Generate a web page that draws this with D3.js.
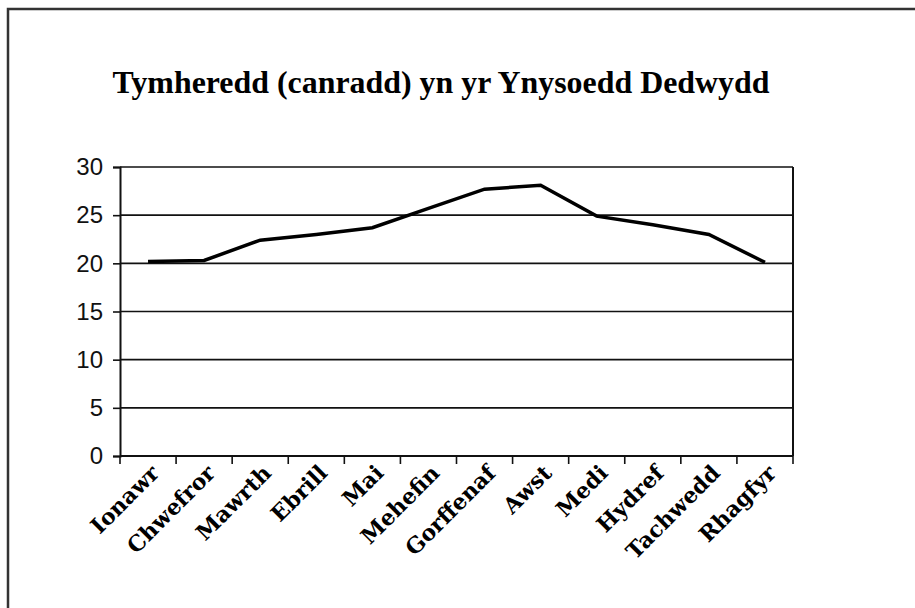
<!DOCTYPE html>
<html>
<head>
<meta charset="utf-8">
<script src="https://cdn.jsdelivr.net/npm/d3@7"></script>
<style>
  html, body { margin: 0; padding: 0; background: #fff; }
  svg { display: block; }
</style>
</head>
<body>
<svg id="chart" width="915" height="608"></svg>
<script>
// Chart data
const months = ["Ionawr", "Chwefror", "Mawrth", "Ebrill", "Mai", "Mehefin",
                "Gorffenaf", "Awst", "Medi", "Hydref", "Tachwedd", "Rhagfyr"];
const temps = [20.2, 20.3, 22.4, 23.0, 23.7, 25.7, 27.7, 28.1, 24.9, 24.0, 23.0, 20.1];
const yTicks = [0, 5, 10, 15, 20, 25, 30];
const title = "Tymheredd (canradd) yn yr Ynysoedd Dedwydd";

const svg = d3.select("#chart");

// Outer frame (runs off the right and bottom edges)
svg.append("path")
    .attr("d", "M8,620 L8,9 L930,9")
    .attr("fill", "none")
    .attr("stroke", "#333")
    .attr("stroke-width", 2.5);

// Plot area
const plotLeft = 120, plotRight = 793, plotTop = 167, plotBottom = 456;

const x = d3.scaleBand()
    .domain(months)
    .range([plotLeft, plotRight]);

const y = d3.scaleLinear()
    .domain([0, 30])
    .range([plotBottom, plotTop]);

// Title - squeezed to fit the condensed look of the original
svg.append("text")
    .attr("x", 441)
    .attr("y", 93)
    .attr("text-anchor", "middle")
    .attr("textLength", 657)
    .attr("lengthAdjust", "spacingAndGlyphs")
    .style("font-family", "'Liberation Serif', 'Times New Roman', serif")
    .style("font-weight", "bold")
    .style("font-size", "31px")
    .text(title);

// Horizontal grid lines
svg.append("g")
    .selectAll("line")
    .data(yTicks)
    .enter()
    .append("line")
    .attr("x1", plotLeft)
    .attr("x2", plotRight)
    .attr("y1", d => y(d))
    .attr("y2", d => y(d))
    .attr("stroke", "#111")
    .attr("stroke-width", 1.6);

// Right border of the plot
svg.append("line")
    .attr("x1", plotRight).attr("x2", plotRight)
    .attr("y1", plotTop).attr("y2", plotBottom)
    .attr("stroke", "#111")
    .attr("stroke-width", 2);

// Y axis
const yAxis = svg.append("g")
    .attr("transform", `translate(${plotLeft},0)`)
    .call(d3.axisLeft(y).tickValues(yTicks).tickSize(7).tickPadding(10));
yAxis.select(".domain").attr("stroke", "#111").attr("stroke-width", 2);
yAxis.selectAll(".tick line").attr("stroke", "#111").attr("stroke-width", 1.6);
yAxis.selectAll("text")
    .style("font-family", "'Liberation Sans', Arial, sans-serif")
    .style("font-size", "24px")
    .attr("fill", "#111");

// X axis, ticks between categories
const xAxis = svg.append("g")
    .attr("transform", `translate(0,${plotBottom})`);
xAxis.append("line")
    .attr("x1", plotLeft).attr("x2", plotRight)
    .attr("stroke", "#111")
    .attr("stroke-width", 2);
xAxis.selectAll("line.tick")
    .data(months.concat(["end"]))
    .enter()
    .append("line")
    .attr("class", "tick")
    .attr("x1", (d, i) => i < months.length ? x(d) : plotRight)
    .attr("x2", (d, i) => i < months.length ? x(d) : plotRight)
    .attr("y1", 0)
    .attr("y2", 8)
    .attr("stroke", "#111")
    .attr("stroke-width", 1.6);

// Rotated month labels
xAxis.selectAll("text")
    .data(months)
    .enter()
    .append("text")
    .attr("transform", d => `translate(${x(d) + x.bandwidth() / 2 + 7},${13}) rotate(-45)`)
    .attr("text-anchor", "end")
    .attr("dy", "0.35em")
    .style("font-family", "'DejaVu Serif', serif")
    .style("font-weight", "bold")
    .style("font-size", "22px")
    .attr("fill", "#000")
    .text(d => d);

// Temperature line
const line = d3.line()
    .x((d, i) => x(months[i]) + x.bandwidth() / 2)
    .y(d => y(d));

svg.append("path")
    .datum(temps)
    .attr("d", line)
    .attr("fill", "none")
    .attr("stroke", "#000")
    .attr("stroke-width", 3.5);
</script>
</body>
</html>
